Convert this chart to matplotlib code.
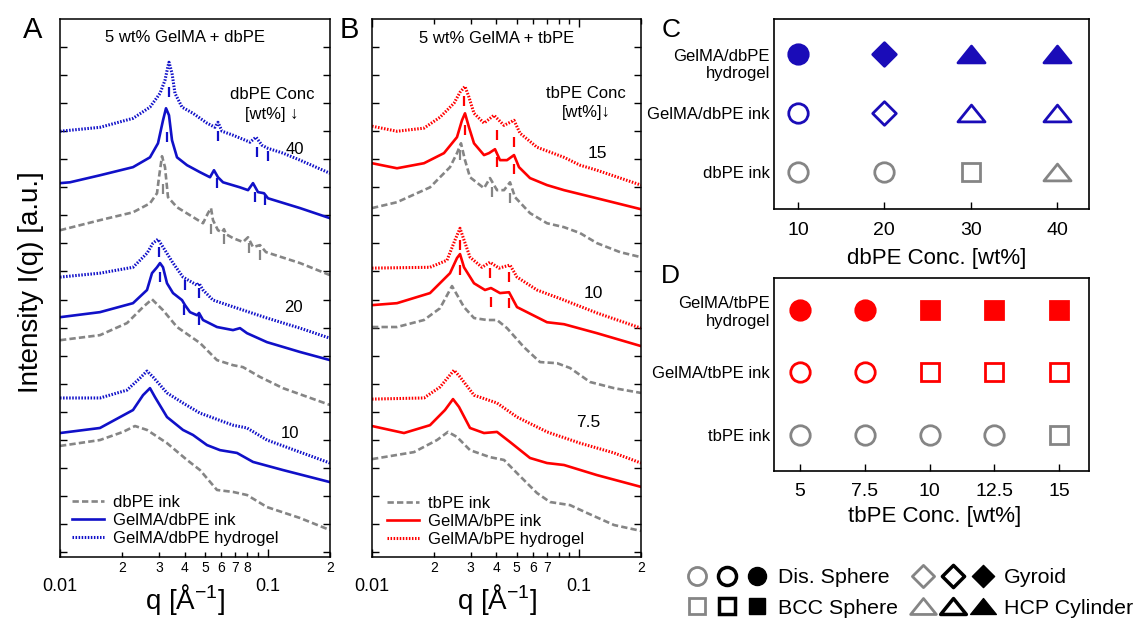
import matplotlib
matplotlib.use('Agg')
import matplotlib.pyplot as plt
from matplotlib.path import Path
from matplotlib.lines import Line2D
from matplotlib.legend_handler import HandlerTuple
from matplotlib.ticker import FixedLocator, FixedFormatter

plt.rcParams['font.family'] = ['Liberation Sans', 'DejaVu Sans']
plt.rcParams['mathtext.fontset'] = 'custom'
plt.rcParams['mathtext.rm'] = 'Liberation Sans'
plt.rcParams['mathtext.it'] = 'Liberation Sans:italic'

# ---------------- panel A : 5 wt% GelMA + dbPE (q in 1/A, offset log intensity) ----------------
q_db40_gel = [0.0100, 0.01558, 0.02248, 0.02714, 0.03033, 0.03206, 0.03314, 0.03351, 0.03465, 0.03582, 0.03871,
              0.04375, 0.05109, 0.05582, 0.05771, 0.06034, 0.06818, 0.08235, 0.08798, 0.09406, 0.1005, 0.1187,
              0.1434, 0.2000]
i_db40_gel = [15.00, 15.14, 15.46, 15.86, 16.35, 16.82, 17.32, 17.46, 17.07, 16.35, 15.86,
              15.64, 15.29, 15.14, 15.32, 15.00, 14.86, 14.61, 14.79, 14.50, 14.39, 14.22,
              13.97, 13.50]
q_db40_ink = [0.0100, 0.01117, 0.01558, 0.02248, 0.02714, 0.02966, 0.03136, 0.03242, 0.03351, 0.03465, 0.03663,
              0.04093, 0.04727, 0.05282, 0.05520, 0.05771, 0.06102, 0.07367, 0.08054, 0.08511, 0.08996, 0.09616,
              0.1005, 0.1434, 0.2000]
i_db40_ink = [13.15, 13.18, 13.43, 13.72, 14.07, 14.57, 15.39, 15.82, 15.57, 14.68, 14.07,
              13.79, 13.54, 13.36, 13.61, 13.36, 13.18, 13.00, 12.90, 13.15, 12.83, 12.79,
              12.61, 12.26, 11.90]
q_db40_pe = [0.0100, 0.01558, 0.02248, 0.02714, 0.02934, 0.02999, 0.03101, 0.03206, 0.03314, 0.03663, 0.04375,
             0.04888, 0.05166, 0.05341, 0.05460, 0.05771, 0.06034, 0.06170, 0.06308, 0.06818, 0.07616, 0.08054,
             0.08511, 0.09198, 0.09831, 0.1434, 0.2000]
i_db40_pe = [11.47, 11.83, 12.11, 12.43, 12.79, 13.36, 14.11, 13.72, 12.65, 12.29, 11.94,
             11.72, 12.08, 12.26, 11.83, 11.47, 11.40, 11.51, 11.33, 11.19, 11.05, 11.22,
             10.87, 10.94, 10.69, 10.30, 9.87]

q_db20_gel = [0.0100, 0.01558, 0.02248, 0.02626, 0.02806, 0.02966, 0.03136, 0.03504, 0.03914, 0.04574, 0.04676,
              0.04888, 0.05460, 0.07367, 0.09940, 0.1434, 0.2000]
i_db20_gel = [9.80, 9.94, 10.15, 10.65, 11.01, 11.15, 10.87, 10.30, 9.80, 9.51, 9.58,
              9.34, 8.98, 8.66, 8.34, 7.98, 7.62]
q_db20_ink = [0.0100, 0.01558, 0.02248, 0.02626, 0.02775, 0.02934, 0.03033, 0.03136, 0.03278, 0.03504, 0.03871,
              0.04003, 0.04231, 0.04574, 0.04676, 0.04888, 0.05707, 0.06818, 0.07367, 0.07964, 0.09940, 0.1434,
              0.2000]
i_db20_ink = [8.37, 8.55, 8.87, 9.34, 9.94, 10.15, 10.30, 10.15, 9.58, 9.23, 8.98,
              8.80, 8.55, 8.44, 8.52, 8.27, 8.02, 7.91, 7.98, 7.80, 7.48, 7.13,
              6.84]
q_db20_pe = [0.0100, 0.01558, 0.02103, 0.02512, 0.02775, 0.03136, 0.03663, 0.04727, 0.05707, 0.06818, 0.07616,
             0.09198, 0.1187, 0.2000]
i_db20_pe = [7.55, 7.73, 8.16, 8.73, 9.01, 8.62, 8.02, 7.45, 6.84, 6.66, 6.59,
             6.24, 5.84, 5.24]

q_db10_gel = [0.0100, 0.01558, 0.02103, 0.02429, 0.02626, 0.02806, 0.03278, 0.03914, 0.04727, 0.06818, 0.07964,
              0.09940, 0.1434, 0.2000]
i_db10_gel = [5.49, 5.49, 5.77, 6.20, 6.45, 6.24, 5.67, 5.31, 4.95, 4.52, 4.42,
              3.99, 3.56, 3.17]
q_db10_ink = [0.0100, 0.01558, 0.02248, 0.02512, 0.02714, 0.02869, 0.03278, 0.03914, 0.04375, 0.05109, 0.05902,
              0.07128, 0.08511, 0.1187, 0.2000]
i_db10_ink = [4.24, 4.42, 5.06, 5.59, 5.84, 5.52, 4.81, 4.35, 4.17, 3.81, 3.63,
              3.53, 3.21, 2.92, 2.49]
q_db10_pe = [0.0100, 0.01558, 0.02012, 0.02298, 0.02626, 0.03278, 0.04093, 0.04727, 0.05707, 0.06818, 0.07964,
             0.09940, 0.1434, 0.2000]
i_db10_pe = [3.78, 3.99, 4.28, 4.49, 4.35, 3.88, 3.28, 2.92, 2.21, 2.14, 2.03,
             1.60, 1.21, 0.78]

# peak index marks, panel A
mq_db40_gel = [0.03351, 0.05771, 0.08897, 0.1005]
mi_db40_gel = [16.39, 14.82, 14.25, 14.11]
mq_db40_ink = [0.03278, 0.05707, 0.08702, 0.09723]
mi_db40_ink = [14.79, 13.15, 12.65, 12.54]
mq_db40_pe = [0.03136, 0.05341, 0.06170, 0.08143, 0.09198]
mi_db40_pe = [12.93, 11.51, 11.15, 10.83, 10.58]
mq_db20_gel = [0.02999, 0.04003, 0.04676]
mi_db20_gel = [10.69, 9.51, 9.23]
mq_db20_ink = [0.03033, 0.03959, 0.04676]
mi_db20_ink = [9.80, 8.62, 8.27]

# ---------------- panel B : 5 wt% GelMA + tbPE ----------------
q_tb15_gel = [0.0100, 0.01321, 0.01784, 0.02133, 0.02493, 0.02665, 0.02817, 0.02945, 0.03114, 0.03481, 0.03891,
              0.04350, 0.04862, 0.05197, 0.06281, 0.08486, 0.1014, 0.1225, 0.2000]
i_tb15_gel = [15.18, 15.00, 15.11, 15.50, 16.00, 16.39, 16.60, 16.21, 15.64, 15.29, 15.57,
              15.21, 15.39, 14.93, 14.43, 14.07, 13.79, 13.61, 13.08]
q_tb15_ink = [0.0100, 0.01321, 0.01784, 0.02229, 0.02577, 0.02724, 0.02817, 0.02945, 0.03114, 0.03481, 0.03681,
              0.03934, 0.04160, 0.04498, 0.04862, 0.05140, 0.05811, 0.07022, 0.08486, 0.1225, 0.2000]
i_tb15_ink = [13.86, 13.68, 13.86, 14.22, 14.79, 15.39, 15.64, 15.14, 14.57, 14.15, 14.22,
              14.36, 13.97, 13.97, 14.15, 13.72, 13.33, 13.08, 12.90, 12.61, 12.22]
q_tb15_pe = [0.0100, 0.01321, 0.01908, 0.02384, 0.02577, 0.02694, 0.02817, 0.02979, 0.03481, 0.03721, 0.04024,
             0.04350, 0.04651, 0.04917, 0.05811, 0.07022, 0.08486, 0.1014, 0.1225, 0.1583, 0.2000]
i_tb15_pe = [12.26, 12.47, 13.00, 13.72, 14.22, 14.57, 13.97, 13.36, 12.97, 13.33, 12.90,
             12.90, 13.18, 12.65, 12.08, 11.72, 11.58, 11.37, 11.01, 10.69, 10.51]

q_tb10_gel = [0.0100, 0.01908, 0.02305, 0.02520, 0.02665, 0.02786, 0.02979, 0.03404, 0.03721, 0.04114, 0.04651,
              0.05027, 0.06281, 0.08486, 0.1225, 0.2000]
i_tb10_gel = [10.12, 10.15, 10.40, 11.12, 11.54, 11.12, 10.51, 10.15, 10.33, 10.12, 10.23,
              9.80, 9.34, 8.98, 8.52, 7.98]
q_tb10_ink = [0.0100, 0.01321, 0.01908, 0.02384, 0.02577, 0.02665, 0.02786, 0.03114, 0.03520, 0.03763, 0.04160,
              0.04600, 0.05027, 0.05620, 0.07022, 0.08486, 0.1225, 0.2000]
i_tb10_ink = [8.80, 8.87, 9.23, 9.94, 10.48, 10.62, 10.15, 9.58, 9.34, 9.41, 9.23,
              9.26, 8.73, 8.55, 8.19, 8.12, 7.80, 7.34]
q_tb10_pe = [0.0100, 0.01321, 0.01784, 0.02133, 0.02438, 0.02665, 0.02786, 0.03114, 0.03599, 0.04024, 0.04498,
             0.05434, 0.06494, 0.07851, 0.09072, 0.1133, 0.1481, 0.2000]
i_tb10_pe = [8.02, 8.02, 8.27, 8.69, 9.48, 8.98, 8.73, 8.34, 8.27, 8.27, 7.98,
             7.30, 6.77, 6.73, 6.56, 6.06, 5.84, 5.67]

q_tb75_gel = [0.0100, 0.01784, 0.02133, 0.02384, 0.02493, 0.02665, 0.03114, 0.04024, 0.05027, 0.07022, 0.1014,
              0.1481, 0.2000]
i_tb75_gel = [5.45, 5.49, 5.88, 6.31, 6.48, 6.24, 5.59, 5.31, 4.81, 4.28, 3.88,
              3.53, 3.17]
q_tb75_ink = [0.0100, 0.01428, 0.01908, 0.02254, 0.02465, 0.02635, 0.02979, 0.03481, 0.04024, 0.04651, 0.05811,
              0.07022, 0.08486, 0.1225, 0.2000]
i_tb75_ink = [4.49, 4.24, 4.52, 5.06, 5.45, 5.17, 4.42, 4.24, 4.28, 3.92, 3.35,
              3.17, 3.10, 2.74, 2.32]
q_tb75_pe = [0.0100, 0.01596, 0.02063, 0.02331, 0.02577, 0.02979, 0.03721, 0.04350, 0.05027, 0.06281, 0.07260,
             0.09072, 0.1096, 0.1481, 0.2000]
i_tb75_pe = [3.31, 3.56, 3.99, 4.28, 4.10, 3.63, 3.38, 3.28, 2.81, 2.10, 1.78,
             1.67, 1.39, 0.96, 0.75]

mq_tb15_gel = [0.02786, 0.04024, 0.04862]
mi_tb15_gel = [16.07, 14.86, 14.61]
mq_tb15_ink = [0.02817, 0.04024, 0.04862]
mi_tb15_ink = [15.04, 13.90, 13.65]
mq_tb15_pe = [0.02665, 0.03805, 0.04651]
mi_tb15_pe = [14.15, 12.83, 12.61]
mq_tb10_gel = [0.02665, 0.03721, 0.04600]
mi_tb10_gel = [10.94, 9.94, 9.80]
mq_tb10_ink = [0.02665, 0.03763, 0.04600]
mi_tb10_ink = [10.05, 8.91, 8.87]

# ---------------- panels C, D : phase maps ----------------
conc_db = [10, 20, 30, 40]
phase_db_pe = ['dis', 'dis', 'bcc', 'hcp']
phase_db_ink = ['dis', 'gyr', 'hcp', 'hcp']
phase_db_gel = ['dis', 'gyr', 'hcp', 'hcp']
conc_tb = [5, 7.5, 10, 12.5, 15]
conc_tb_labels = ['5', '7.5', '10', '12.5', '15']
phase_tb_pe = ['dis', 'dis', 'dis', 'dis', 'bcc']
phase_tb_ink = ['dis', 'dis', 'bcc', 'bcc', 'bcc']
phase_tb_gel = ['dis', 'dis', 'bcc', 'bcc', 'bcc']

BLUE = '#1010c8'
MBLUE = '#1a0cb8'
RED = '#ff0000'
GRAY = '#858585'

tri = Path([(-1, -0.62), (1, -0.62), (0, 0.62), (-1, -0.62)], closed=True)
dia = Path([(0, 1), (1, 0), (0, -1), (-1, 0), (0, 1)], closed=True)
shapes = {'dis': ('o', 14), 'bcc': ('s', 12.5), 'gyr': (dia, 17), 'hcp': (tri, 19.5)}

W, H = 1136, 620
fig = plt.figure(figsize=(11.36, 6.2), dpi=100)


def px_axes(l, t, r, b):
    return fig.add_axes([l / W, 1 - b / H, (r - l) / W, (b - t) / H])


def saxs_axes(ax, minor_labels, top_ticks):
    ax.set_xscale('log')
    ax.set_xlim(0.01, 0.2)
    ax.set_ylim(-0.18, 19.02)
    ax.set_yticks(range(19))
    ax.set_yticklabels([])
    ax.tick_params(axis='y', direction='in', left=True, right=True, length=5, width=1)
    ax.xaxis.set_major_locator(FixedLocator([0.01, 0.1]))
    ax.xaxis.set_major_formatter(FixedFormatter(['0.01', '0.1']))
    ax.xaxis.set_minor_locator(FixedLocator([0.02, 0.03, 0.04, 0.05, 0.06, 0.07, 0.08, 0.09, 0.2]))
    ax.xaxis.set_minor_formatter(FixedFormatter(minor_labels))
    ax.tick_params(axis='x', which='major', direction='in', length=6, width=1, labelsize=13, pad=15,
                   top=top_ticks)
    ax.tick_params(axis='x', which='minor', direction='in', length=3.5, width=1, labelsize=10, pad=3,
                   top=top_ticks)
    for s in ax.spines.values():
        s.set_linewidth(1.1)
    ax.set_xlabel('q [Å$^{-1}$]', fontsize=20)


def curves(ax, color, q_pe, i_pe, q_ink, i_ink, q_gel, i_gel):
    l1, = ax.plot(q_pe, i_pe, color=GRAY, lw=1.9, ls=(0, (2.4, 1.2)))
    l2, = ax.plot(q_ink, i_ink, color=color, lw=1.9, solid_joinstyle='round')
    l3, = ax.plot(q_gel, i_gel, color=color, lw=2.2, ls=(0, (0.5, 0.5)))
    return [l1, l2, l3]


def marks(ax, color, q, i):
    ax.plot(q, i, ls='none', marker='|', ms=7, mew=1.6, color=color)


# panel A
axA = px_axes(60, 18.5, 330, 557)
saxs_axes(axA, ['2', '3', '4', '5', '6', '7', '8', '', '2'], False)
hA = curves(axA, BLUE, q_db40_pe, i_db40_pe, q_db40_ink, i_db40_ink, q_db40_gel, i_db40_gel)
curves(axA, BLUE, q_db20_pe, i_db20_pe, q_db20_ink, i_db20_ink, q_db20_gel, i_db20_gel)
curves(axA, BLUE, q_db10_pe, i_db10_pe, q_db10_ink, i_db10_ink, q_db10_gel, i_db10_gel)
marks(axA, BLUE, mq_db40_gel, mi_db40_gel)
marks(axA, BLUE, mq_db40_ink, mi_db40_ink)
marks(axA, GRAY, mq_db40_pe, mi_db40_pe)
marks(axA, BLUE, mq_db20_gel, mi_db20_gel)
marks(axA, BLUE, mq_db20_ink, mi_db20_ink)
axA.set_ylabel('Intensity I(q) [a.u.]', fontsize=20)
axA.yaxis.set_label_coords(-0.06, 0.51)
axA.xaxis.set_label_coords(0.465, -0.046)
axA.text(0.463, 0.964, '5 wt% GelMA + dbPE', transform=axA.transAxes, ha='center', va='center', fontsize=12)
axA.text(0.785, 0.840, 'dbPE Conc\n[wt%] ↓', transform=axA.transAxes, ha='center', va='center',
         fontsize=12, linespacing=1.4)
axA.text(0.870, 0.756, '40', transform=axA.transAxes, ha='center', va='center', fontsize=12)
axA.text(0.863, 0.464, '20', transform=axA.transAxes, ha='center', va='center', fontsize=12)
axA.text(0.852, 0.230, '10', transform=axA.transAxes, ha='center', va='center', fontsize=12)
axA.legend(hA, ['dbPE ink', 'GelMA/dbPE ink', 'GelMA/dbPE hydrogel'], loc='lower left',
           bbox_to_anchor=(0.044, 0.02), frameon=False, fontsize=12, handlelength=1.9,
           handletextpad=0.55, labelspacing=0.18, borderpad=0, borderaxespad=0)

# panel B
axB = px_axes(372, 18.5, 641, 557)
saxs_axes(axB, ['2', '3', '4', '5', '6', '7', '', '', '2'], True)
hB = curves(axB, RED, q_tb15_pe, i_tb15_pe, q_tb15_ink, i_tb15_ink, q_tb15_gel, i_tb15_gel)
curves(axB, RED, q_tb10_pe, i_tb10_pe, q_tb10_ink, i_tb10_ink, q_tb10_gel, i_tb10_gel)
curves(axB, RED, q_tb75_pe, i_tb75_pe, q_tb75_ink, i_tb75_ink, q_tb75_gel, i_tb75_gel)
marks(axB, RED, mq_tb15_gel, mi_tb15_gel)
marks(axB, RED, mq_tb15_ink, mi_tb15_ink)
marks(axB, GRAY, mq_tb15_pe, mi_tb15_pe)
marks(axB, RED, mq_tb10_gel, mi_tb10_gel)
marks(axB, RED, mq_tb10_ink, mi_tb10_ink)
axB.xaxis.set_label_coords(0.465, -0.046)
axB.text(0.465, 0.962, '5 wt% GelMA + tbPE', transform=axB.transAxes, ha='center', va='center', fontsize=12)
axB.text(0.796, 0.843, 'tbPE Conc\n[wt%]↓', transform=axB.transAxes, ha='center', va='center',
         fontsize=12, linespacing=1.4)
axB.text(0.836, 0.750, '15', transform=axB.transAxes, ha='center', va='center', fontsize=12.5)
axB.text(0.822, 0.490, '10', transform=axB.transAxes, ha='center', va='center', fontsize=12.5)
axB.text(0.803, 0.249, '7.5', transform=axB.transAxes, ha='center', va='center', fontsize=12.5)
axB.legend(hB, ['tbPE ink', 'GelMA/bPE ink', 'GelMA/bPE hydrogel'], loc='lower left',
           bbox_to_anchor=(0.056, 0.019), frameon=False, fontsize=12, handlelength=1.9,
           handletextpad=0.55, labelspacing=0.18, borderpad=0, borderaxespad=0)


def phase_row(ax, conc, phases, row, color, filled):
    for c, p in zip(conc, phases):
        m, ms = shapes[p]
        ax.plot([c], [row], ls='none', marker=m, ms=ms, mec=color, mew=2,
                mfc=color if filled else 'white')


def phase_axes(ax, xt, xtl, xlabel, lx, ly):
    ax.set_xticks(xt)
    ax.set_xticklabels(xtl)
    ax.tick_params(axis='x', direction='in', length=5, width=1, labelsize=14, pad=9)
    ax.tick_params(axis='y', length=0, labelsize=12, pad=3)
    ax.set_xlabel(xlabel, fontsize=16)
    ax.xaxis.set_label_coords(lx, ly)
    for s in ax.spines.values():
        s.set_linewidth(1.2)


# panel C
axC = px_axes(774, 19, 1089, 209)
phase_row(axC, conc_db, phase_db_pe, 0, GRAY, False)
phase_row(axC, conc_db, phase_db_ink, 1, MBLUE, False)
phase_row(axC, conc_db, phase_db_gel, 2, MBLUE, True)
axC.set_xlim(7.22, 43.7)
axC.set_ylim(-0.63, 2.59)
axC.set_yticks([0, 1, 2])
axC.set_yticklabels(['dbPE ink', 'GelMA/dbPE ink', ''])
axC.annotate('GelMA/dbPE\nhydrogel', xy=(0, 2), xycoords=axC.get_yaxis_transform(), xytext=(-3, 3.5),
             textcoords='offset points', ha='right', va='top', fontsize=12, linespacing=1.15)
phase_axes(axC, conc_db, [str(c) for c in conc_db], 'dbPE Conc. [wt%]', 0.517, -0.205)

# panel D
axD = px_axes(774, 278, 1089, 471)
phase_row(axD, conc_tb, phase_tb_pe, 0, GRAY, False)
phase_row(axD, conc_tb, phase_tb_ink, 1, RED, False)
phase_row(axD, conc_tb, phase_tb_gel, 2, RED, True)
axD.set_xlim(4.0, 16.15)
axD.set_ylim(-0.58, 2.51)
axD.set_yticks([0, 1, 2])
axD.set_yticklabels(['tbPE ink', 'GelMA/tbPE ink', 'GelMA/tbPE\nhydrogel'])
phase_axes(axD, conc_tb, conc_tb_labels, 'tbPE Conc. [wt%]', 0.511, -0.18)

# shape key
def key(p):
    m, ms = shapes[p]
    return (Line2D([], [], ls='none', marker=m, ms=ms - 1, mfc='white', mec=GRAY, mew=2),
            Line2D([], [], ls='none', marker=m, ms=ms - 1, mfc='white', mec='black', mew=2.5),
            Line2D([], [], ls='none', marker=m, ms=ms - 1, mfc='black', mec='black', mew=1))


fig.legend([key('dis'), key('bcc'), key('gyr'), key('hcp')],
           ['Dis. Sphere', 'BCC Sphere', 'Gyroid', 'HCP Cylinder'],
           handler_map={tuple: HandlerTuple(ndivide=None, pad=0)}, ncol=2, loc='upper left',
           bbox_to_anchor=(682 / W, 1 - 568 / H), frameon=False, fontsize=15.4, handlelength=4.2,
           handletextpad=0.28, columnspacing=0.47, labelspacing=0.55, borderpad=0, borderaxespad=0)

# panel letters
fig.text(23 / W, 1 - 16 / H, 'A', fontsize=21, va='top', ha='left')
fig.text(340 / W, 1 - 16 / H, 'B', fontsize=21, va='top', ha='left')
fig.text(662 / W, 1 - 18 / H, 'C', fontsize=19, va='top', ha='left')
fig.text(661 / W, 1 - 264 / H, 'D', fontsize=19, va='top', ha='left')

fig.savefig('out.png', dpi=100)
